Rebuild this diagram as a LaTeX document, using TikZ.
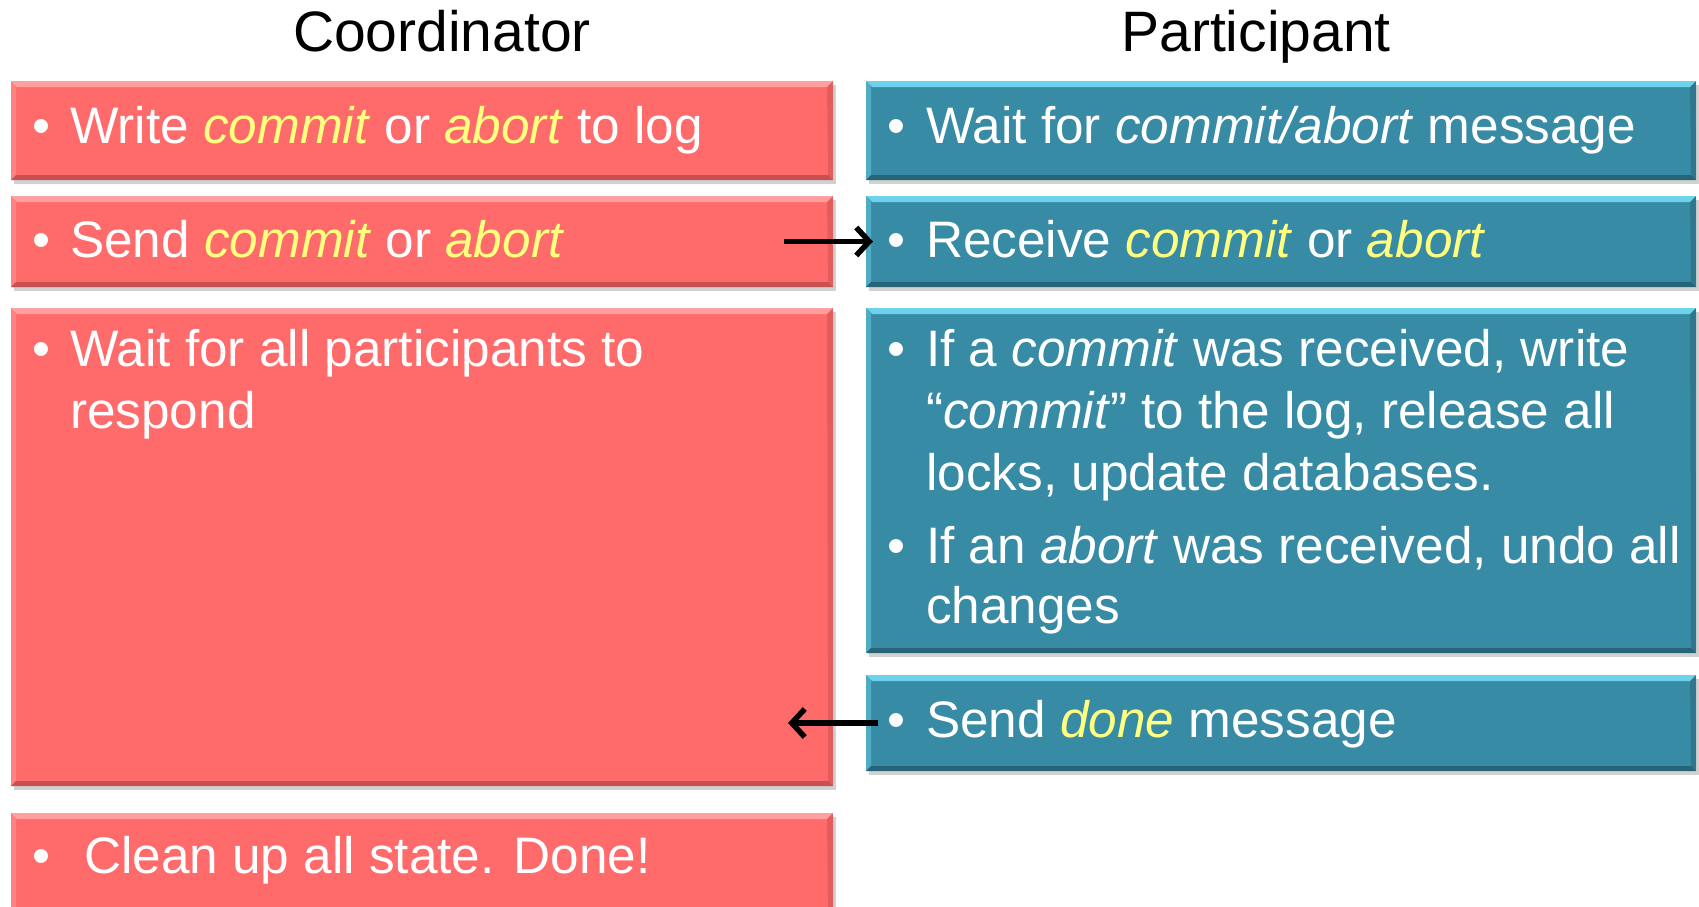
\documentclass[tikz,border=0pt]{standalone}
\usepackage{fontspec}
\setmainfont{Liberation Sans}
\usetikzlibrary{arrows.meta,shadows}
\definecolor{redfill}{RGB}{255,107,107}
\definecolor{redlight}{RGB}{255,160,160}
\definecolor{reddark}{RGB}{200,80,80}
\definecolor{bluefill}{RGB}{56,139,164}
\definecolor{bluelight}{RGB}{110,210,236}
\definecolor{bluedark}{RGB}{40,100,120}
\definecolor{hl}{RGB}{255,255,128}
\newcommand{\hly}[1]{\textcolor{hl}{\textit{#1}}}
\tikzset{
  box/.style n args={3}{rectangle, anchor=north west, inner sep=0pt, outer sep=0pt,
    fill=#1, drop shadow={shadow xshift=3pt, shadow yshift=-4pt, opacity=0.3, fill=black!60},
    path picture={
      \fill[#2] (path picture bounding box.north west) -- (path picture bounding box.north east)
        -- ([shift={(-6pt,-6pt)}]path picture bounding box.north east)
        -- ([shift={(6pt,-6pt)}]path picture bounding box.north west) -- cycle;
      \fill[#2, opacity=0.45] (path picture bounding box.north west) -- (path picture bounding box.south west)
        -- ([shift={(5pt,5pt)}]path picture bounding box.south west)
        -- ([shift={(5pt,-6pt)}]path picture bounding box.north west) -- cycle;
      \fill[#3] (path picture bounding box.south west) -- (path picture bounding box.south east)
        -- ([shift={(-5pt,5pt)}]path picture bounding box.south east)
        -- ([shift={(5pt,5pt)}]path picture bounding box.south west) -- cycle;
      \fill[#3, opacity=0.5] (path picture bounding box.north east) -- (path picture bounding box.south east)
        -- ([shift={(-5pt,5pt)}]path picture bounding box.south east)
        -- ([shift={(-6pt,-6pt)}]path picture bounding box.north east) -- cycle;
    }},
  rbox/.style={box={redfill}{redlight}{reddark}},
  bbox/.style={box={bluefill}{bluelight}{bluedark}},
  txt/.style={anchor=base west, inner sep=0pt, text=white, font=\fontsize{51.3}{62}\selectfont},
  bul/.style={anchor=base, inner sep=0pt, text=white, font=\fontsize{51.3}{62}\selectfont},
  title/.style={anchor=base, inner sep=0pt, text=black, font=\fontsize{57}{68}\selectfont},
  arr/.style={line width=5.5pt, -{Straight Barb[length=13pt,width=28pt]}, black}
}
\begin{document}
\begin{tikzpicture}[x=1pt,y=-1pt]
\useasboundingbox (0,0) rectangle (1699,907);
\clip (0,0) rectangle (1699,907);

\node[title] (tc) at (442,52) {Coordinator};
\node[title] (tp) at (1256,52) {Participant};

% coordinator boxes
\node[rbox, minimum width=822pt, minimum height=99pt] (r1) at (11,81) {};
\node[rbox, minimum width=822pt, minimum height=91pt] (r2) at (11,196) {};
\node[rbox, minimum width=822pt, minimum height=478pt] (r3) at (11,308) {};
\node[rbox, minimum width=822pt, minimum height=110pt] (r4) at (11,813) {};

% participant boxes
\node[bbox, minimum width=830pt, minimum height=99pt] (b1) at (866,81) {};
\node[bbox, minimum width=830pt, minimum height=91pt] (b2) at (866,196) {};
\node[bbox, minimum width=830pt, minimum height=345pt] (b3) at (866,308) {};
\node[bbox, minimum width=830pt, minimum height=96pt] (b4) at (866,675) {};

% coordinator texts
\node[bul] (r1b) at (41,143) {•};
\node[txt] (r1t) at (70,143) {Write \hly{commit} or \hly{abort} to log};
\node[bul] (r2b) at (41,257) {•};
\node[txt] (r2t) at (70,257) {Send \hly{commit} or \hly{abort}};
\node[bul] (r3b) at (41,366) {•};
\node[txt] (r3t1) at (70,366) {Wait for all participants to};
\node[txt] (r3t2) at (70,428) {respond};
\node[bul] (r4b) at (41,873) {•};
\node[txt] (r4t) at (84,873) {Clean up all state. Done!};

% participant texts
\node[bul] (b1b) at (896,143) {•};
\node[txt] (b1t) at (926,143) {Wait for \textit{commit/abort} message};
\node[bul] (b2b) at (896,257) {•};
\node[txt] (b2t) at (926,257) {Receive \hly{commit} or \hly{abort}};
\node[bul] (b3b1) at (896,366) {•};
\node[txt] (b3t1) at (926,366) {If a \textit{commit} was received, write};
\node[txt] (b3t2) at (926,428) {“\textit{commit}” to the log, release all};
\node[txt] (b3t3) at (926,490) {locks, update databases.};
\node[bul] (b3b2) at (896,563) {•};
\node[txt] (b3t4) at (926,563) {If an \textit{abort} was received, undo all};
\node[txt] (b3t5) at (926,623) {changes};
\node[bul] (b4b) at (896,737) {•};
\node[txt] (b4t) at (926,737) {Send \hly{done} message};

% arrows
\draw[arr] ([xshift=-49pt]r2.east |- b2.west) -- ([xshift=7pt]b2.west);
\draw[arr] ([xshift=12pt]b4.west) -- ([xshift=-45pt]b4.west -| r3.east);
\end{tikzpicture}
\end{document}
